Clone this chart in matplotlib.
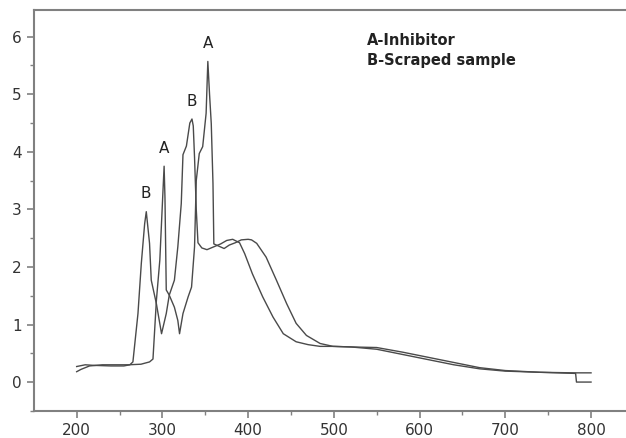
import numpy as np
import matplotlib.pyplot as plt

plt.rcParams['font.family'] = ['DejaVu Sans']

# curve A - inhibitor (wavelength, absorbance)
a_x = [200, 205, 215, 230, 260, 275, 285, 289, 293, 297, 300, 302, 303, 304.5,
       308, 314, 318, 320, 324, 330, 334, 337.5, 339.5, 343, 347, 351, 353,
       355, 357, 359, 360, 366, 372, 378, 385, 392, 400, 404, 410, 421, 433,
       445, 456, 468, 484, 499, 520, 550, 580, 610, 640, 670, 700, 740, 780, 800]
a_y = [0.18, 0.22, 0.28, 0.30, 0.30, 0.31, 0.35, 0.40, 1.42, 2.12, 3.10, 3.75, 3.20, 1.60,
       1.51, 1.30, 1.07, 0.84, 1.19, 1.48, 1.65, 2.35, 3.50, 3.97, 4.09, 4.67, 5.57,
       5.00, 4.49, 3.45, 2.40, 2.36, 2.32, 2.38, 2.42, 2.47, 2.48, 2.47, 2.41, 2.17, 1.77,
       1.36, 1.02, 0.81, 0.67, 0.62, 0.61, 0.60, 0.52, 0.43, 0.34, 0.25, 0.20, 0.17, 0.16, 0.16]

# curve B - scraped sample
b_x = [200, 210, 220, 240, 255, 262, 265.6, 271.5, 275.4, 279.3, 281.2, 285, 287,
       293, 299, 304.5, 308, 314, 318, 322, 324, 328, 332, 334.5, 336, 337.5,
       339.5, 341.5, 346, 352, 360, 368, 375, 382, 390, 396, 405, 417, 429, 441,
       456, 470, 484, 500, 520, 550, 580, 610, 640, 670, 700, 740, 782, 783, 800]
b_y = [0.27, 0.30, 0.29, 0.28, 0.28, 0.30, 0.35, 1.19, 2.06, 2.75, 2.96, 2.41, 1.77,
       1.36, 0.84, 1.19, 1.51, 1.77, 2.35, 3.10, 3.95, 4.10, 4.50, 4.57, 4.45, 3.90,
       3.00, 2.42, 2.33, 2.30, 2.35, 2.40, 2.46, 2.48, 2.42, 2.23, 1.88, 1.48, 1.13, 0.84,
       0.70, 0.65, 0.62, 0.62, 0.61, 0.57, 0.48, 0.39, 0.30, 0.23, 0.19, 0.17, 0.15, 0.0, 0.0]

# peak labels
peak_labels = ['B', 'A', 'B', 'A']
peak_x = [281, 302, 334.5, 353]
peak_y = [2.96, 3.75, 4.57, 5.57]

fig = plt.figure(figsize=(6.26, 4.38), dpi=100)
# axes run past the right edge of the figure, as in the reference
ax = fig.add_axes([0.054, 0.062, 0.96, 0.916])

line_col = '#4a4a4a'
ax.plot(a_x, a_y, color=line_col, lw=1.0)
ax.plot(b_x, b_y, color=line_col, lw=1.0)

for lab, px, py in zip(peak_labels, peak_x, peak_y):
    ax.text(px, py + 0.18, lab, ha='center', va='bottom', fontsize=11, color='#222222')

ax.text(0.554, 0.922, 'A-Inhibitor', transform=ax.transAxes, fontsize=10.5,
        fontweight='bold', color='#222222', va='center')
ax.text(0.554, 0.873, 'B-Scraped sample', transform=ax.transAxes, fontsize=10.5,
        fontweight='bold', color='#222222', va='center')

ax.set_xlim(150, 851)
ax.set_ylim(-0.5, 6.47)
ax.set_xticks([200, 300, 400, 500, 600, 700, 800])
ax.set_xticks(np.arange(250, 850, 100), minor=True)
ax.set_yticks([0, 1, 2, 3, 4, 5, 6])
ax.set_yticks(np.arange(-0.5, 6.5, 1.0), minor=True)

spine_col = '#808080'
ax.spines['right'].set_visible(False)
for s in ['left', 'bottom', 'top']:
    ax.spines[s].set_color(spine_col)
    ax.spines[s].set_linewidth(1.5)
ax.tick_params(which='major', direction='out', length=5, width=1.2, color=spine_col,
               labelsize=11, labelcolor='#333333', top=False)
ax.tick_params(which='minor', direction='out', length=3, width=1.0, color=spine_col, top=False)

fig.savefig('out.png', dpi=100)
